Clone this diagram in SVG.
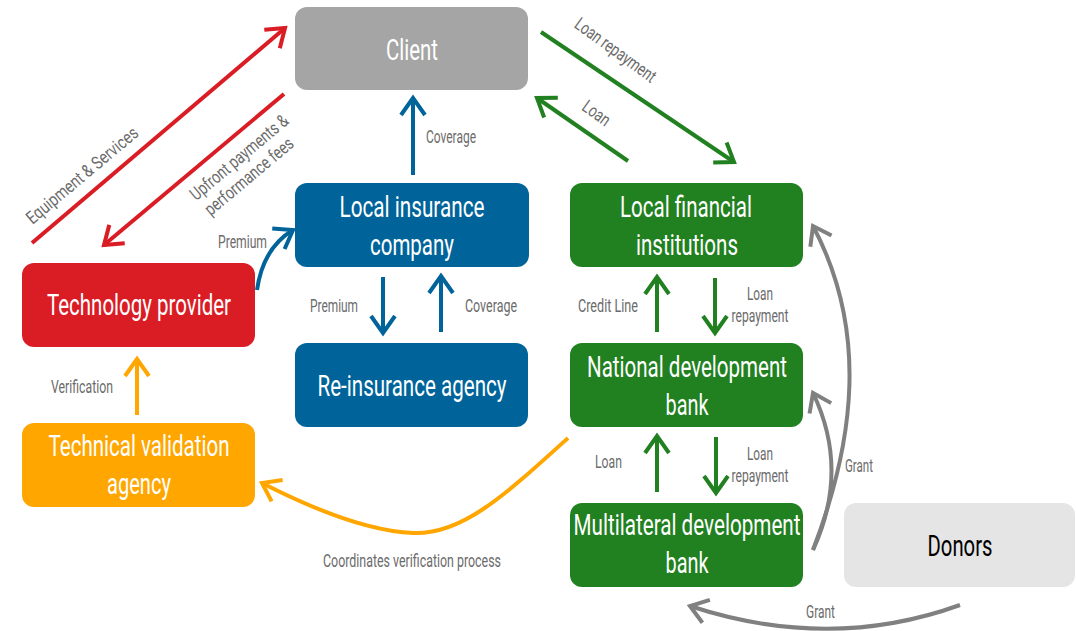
<svg xmlns="http://www.w3.org/2000/svg" width="1076" height="631" viewBox="0 0 1076 631">
  <defs>
    <style>
      .node-text { font-family: Roboto, "Liberation Sans", sans-serif; font-size: 30px; fill: #ffffff; text-anchor: middle; }
      .lbl { font-family: Roboto, "Liberation Sans", sans-serif; font-size: 18px; fill: #6b6b6b; }
      .mid { text-anchor: middle; }
      .conn { fill: none; stroke-width: 4; stroke-linecap: butt; }
      .red { stroke: #da1c24; }
      .blue { stroke: #00649a; }
      .green { stroke: #21801f; }
      .orange { stroke: #ffa600; }
      .gray { stroke: #808080; }
    </style>
    <marker id="ah-red" markerUnits="userSpaceOnUse" markerWidth="40" markerHeight="40" viewBox="-20 -20 40 40" refX="0" refY="0" orient="auto">
      <path d="M-17,-12 L0,0 L-17,12" fill="none" stroke="#da1c24" stroke-width="4"/>
    </marker>
    <marker id="ah-blue" markerUnits="userSpaceOnUse" markerWidth="40" markerHeight="40" viewBox="-20 -20 40 40" refX="0" refY="0" orient="auto">
      <path d="M-17,-12 L0,0 L-17,12" fill="none" stroke="#00649a" stroke-width="4"/>
    </marker>
    <marker id="ah-green" markerUnits="userSpaceOnUse" markerWidth="40" markerHeight="40" viewBox="-20 -20 40 40" refX="0" refY="0" orient="auto">
      <path d="M-17,-12 L0,0 L-17,12" fill="none" stroke="#21801f" stroke-width="4"/>
    </marker>
    <marker id="ah-orange" markerUnits="userSpaceOnUse" markerWidth="40" markerHeight="40" viewBox="-20 -20 40 40" refX="0" refY="0" orient="auto">
      <path d="M-17,-12 L0,0 L-17,12" fill="none" stroke="#ffa600" stroke-width="4"/>
    </marker>
    <marker id="ah-gray" markerUnits="userSpaceOnUse" markerWidth="40" markerHeight="40" viewBox="-20 -20 40 40" refX="0" refY="0" orient="auto">
      <path d="M-17,-12 L0,0 L-17,12" fill="none" stroke="#808080" stroke-width="4"/>
    </marker>
  </defs>

  <rect width="1076" height="631" fill="#ffffff"/>

  <!-- nodes -->
  <g id="client">
    <rect x="295" y="7" width="233" height="83" rx="12" fill="#a5a5a5"/>
    <text class="node-text" x="412" y="60" textLength="52" lengthAdjust="spacingAndGlyphs">Client</text>
  </g>
  <g id="local-insurance">
    <rect x="295" y="183" width="234" height="84" rx="12" fill="#00649a"/>
    <text class="node-text" x="412" y="217" textLength="145" lengthAdjust="spacingAndGlyphs">Local insurance</text>
    <text class="node-text" x="412" y="255" textLength="84" lengthAdjust="spacingAndGlyphs">company</text>
  </g>
  <g id="reinsurance">
    <rect x="295" y="343" width="233" height="84" rx="12" fill="#00649a"/>
    <text class="node-text" x="412" y="396" textLength="189" lengthAdjust="spacingAndGlyphs">Re-insurance agency</text>
  </g>
  <g id="technology-provider">
    <rect x="22" y="263" width="233" height="84" rx="12" fill="#da1c24"/>
    <text class="node-text" x="139" y="315" textLength="184" lengthAdjust="spacingAndGlyphs">Technology provider</text>
  </g>
  <g id="technical-validation">
    <rect x="22" y="423" width="233" height="84" rx="12" fill="#ffa600"/>
    <text class="node-text" x="139" y="456" textLength="181" lengthAdjust="spacingAndGlyphs">Technical validation</text>
    <text class="node-text" x="139" y="494" textLength="64" lengthAdjust="spacingAndGlyphs">agency</text>
  </g>
  <g id="local-financial">
    <rect x="570" y="183" width="233" height="84" rx="12" fill="#21801f"/>
    <text class="node-text" x="686" y="217" textLength="132" lengthAdjust="spacingAndGlyphs">Local financial</text>
    <text class="node-text" x="687" y="255" textLength="102" lengthAdjust="spacingAndGlyphs">institutions</text>
  </g>
  <g id="national-bank">
    <rect x="570" y="343" width="233" height="84" rx="12" fill="#21801f"/>
    <text class="node-text" x="687" y="377" textLength="200" lengthAdjust="spacingAndGlyphs">National development</text>
    <text class="node-text" x="687" y="415" textLength="43" lengthAdjust="spacingAndGlyphs">bank</text>
  </g>
  <g id="multilateral-bank">
    <rect x="570" y="503" width="233" height="84" rx="12" fill="#21801f"/>
    <text class="node-text" x="687" y="535" textLength="227" lengthAdjust="spacingAndGlyphs">Multilateral development</text>
    <text class="node-text" x="687" y="573" textLength="43" lengthAdjust="spacingAndGlyphs">bank</text>
  </g>
  <g id="donors">
    <rect x="844" y="503" width="231" height="84" rx="12" fill="#e5e5e5"/>
    <text class="node-text" x="960" y="556" style="fill:#000000" textLength="65" lengthAdjust="spacingAndGlyphs">Donors</text>
  </g>

  <!-- connectors -->
  <g id="connectors">
    <!-- technology provider <-> client -->
    <path class="conn red" d="M32,243 L285,28" marker-end="url(#ah-red)"/>
    <path class="conn red" d="M284,94 L104,245" marker-end="url(#ah-red)"/>
    <!-- insurance chain -->
    <path class="conn blue" d="M413,175 L413,98" marker-end="url(#ah-blue)"/>
    <path class="conn blue" d="M257,290 Q263,248 293,230" marker-end="url(#ah-blue)"/>
    <path class="conn blue" d="M383,277 L383,333" marker-end="url(#ah-blue)"/>
    <path class="conn blue" d="M441,332 L441,276" marker-end="url(#ah-blue)"/>
    <!-- finance chain -->
    <path class="conn green" d="M541,32 L734,162" marker-end="url(#ah-green)"/>
    <path class="conn green" d="M628,161 L537,98" marker-end="url(#ah-green)"/>
    <path class="conn green" d="M657,332 L657,277" marker-end="url(#ah-green)"/>
    <path class="conn green" d="M715,278 L715,333" marker-end="url(#ah-green)"/>
    <path class="conn green" d="M657,492 L657,436" marker-end="url(#ah-green)"/>
    <path class="conn green" d="M716,437 L716,493" marker-end="url(#ah-green)"/>
    <!-- verification -->
    <path class="conn orange" d="M137,415 L137,359" marker-end="url(#ah-orange)"/>
    <path class="conn orange" d="M568,438 C505,495 462,535 413,533 C365,531 305,505 262,483" marker-end="url(#ah-orange)"/>
    <!-- grants -->
    <path class="conn gray" d="M813,550 Q850,470 813,393" marker-end="url(#ah-gray)"/>
    <path class="conn gray" d="M813,550 C855,440 868,330 813,226" marker-end="url(#ah-gray)"/>
    <path class="conn gray" d="M960,605 Q830,652 690,606" marker-end="url(#ah-gray)"/>
  </g>

  <!-- connector labels -->
  <g id="labels">
    <text class="lbl mid" transform="translate(86,180) rotate(-40)" textLength="140" lengthAdjust="spacingAndGlyphs">Equipment &amp; Services</text>
    <text class="lbl mid" transform="translate(243,162) rotate(-40)" textLength="122" lengthAdjust="spacingAndGlyphs">Upfront payments &amp;</text>
    <text class="lbl mid" transform="translate(253,181) rotate(-40)" textLength="110" lengthAdjust="spacingAndGlyphs">performance fees</text>
    <text class="lbl mid" transform="translate(612,55) rotate(36)" textLength="96" lengthAdjust="spacingAndGlyphs">Loan repayment</text>
    <text class="lbl mid" transform="translate(593,118) rotate(36)" textLength="30" lengthAdjust="spacingAndGlyphs">Loan</text>
    <text class="lbl" x="426" y="143" textLength="50" lengthAdjust="spacingAndGlyphs">Coverage</text>
    <text class="lbl" x="218" y="248" textLength="49" lengthAdjust="spacingAndGlyphs">Premium</text>
    <text class="lbl" x="310" y="312" textLength="48" lengthAdjust="spacingAndGlyphs">Premium</text>
    <text class="lbl" x="465" y="312" textLength="52" lengthAdjust="spacingAndGlyphs">Coverage</text>
    <text class="lbl" x="51" y="393" textLength="62" lengthAdjust="spacingAndGlyphs">Verification</text>
    <text class="lbl" x="578" y="312" textLength="60" lengthAdjust="spacingAndGlyphs">Credit Line</text>
    <text class="lbl mid" x="760" y="300" textLength="26" lengthAdjust="spacingAndGlyphs">Loan</text>
    <text class="lbl mid" x="760" y="322" textLength="57" lengthAdjust="spacingAndGlyphs">repayment</text>
    <text class="lbl" x="595" y="468" textLength="27" lengthAdjust="spacingAndGlyphs">Loan</text>
    <text class="lbl mid" x="760" y="460" textLength="26" lengthAdjust="spacingAndGlyphs">Loan</text>
    <text class="lbl mid" x="760" y="482" textLength="57" lengthAdjust="spacingAndGlyphs">repayment</text>
    <text class="lbl" x="845" y="472" textLength="28" lengthAdjust="spacingAndGlyphs">Grant</text>
    <text class="lbl" x="806" y="618" textLength="29" lengthAdjust="spacingAndGlyphs">Grant</text>
    <text class="lbl" x="323" y="567" textLength="178" lengthAdjust="spacingAndGlyphs">Coordinates verification process</text>
  </g>
</svg>
